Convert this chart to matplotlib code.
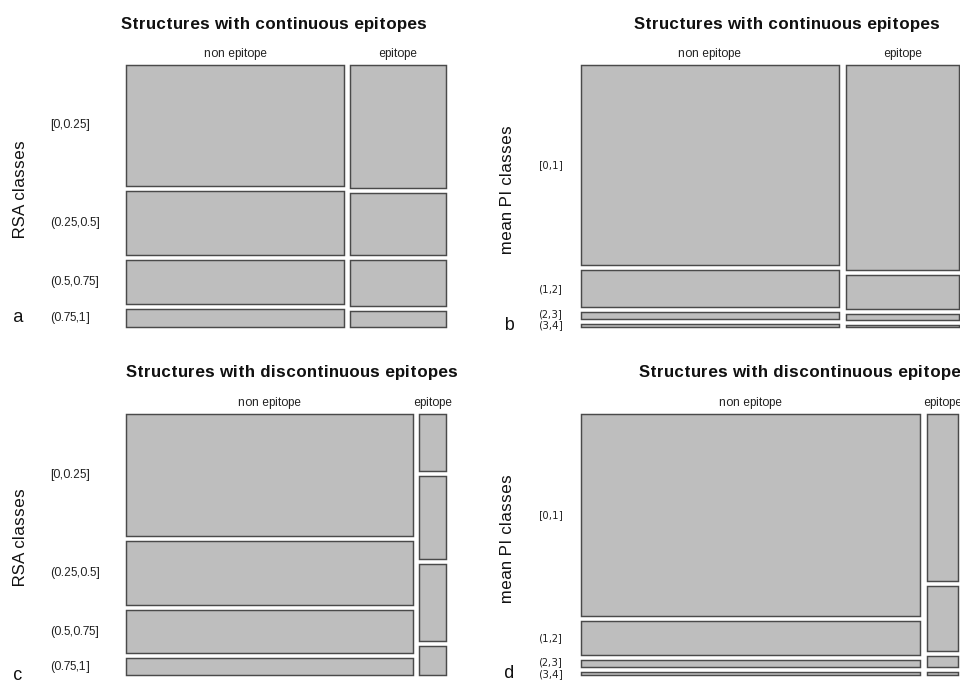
import numpy as np
import matplotlib.pyplot as plt
from matplotlib.patches import Rectangle

plt.rcParams['font.family'] = ['Liberation Sans', 'DejaVu Sans']
plt.rcParams['text.hinting_factor'] = 1

# column / row categories
columns = ['non epitope', 'epitope']
rsa_classes = ['[0,0.25]', '(0.25,0.5]', '(0.5,0.75]', '(0.75,1]']
pi_classes = ['[0,1]', '(1,2]', '(2,3]', '(3,4]']

# percent of residues in each cell (rows = class, one list per column)
cont_rsa_non = [33.9, 18.3, 12.4, 4.9]
cont_rsa_epi = [15.2, 7.6, 5.7, 2.0]
cont_pi_non = [56.4, 10.5, 1.9, 0.8]
cont_pi_epi = [25.4, 4.2, 0.7, 0.25]
disc_rsa_non = [45.3, 23.9, 16.2, 6.2]
disc_rsa_epi = [1.97, 2.83, 2.6, 1.0]
disc_pi_non = [75.3, 12.6, 2.6, 1.1]
disc_pi_epi = [5.7, 2.2, 0.4, 0.1]

W, H = 960, 682
fig = plt.figure(figsize=(W / 100, H / 100), dpi=100)

FILL = '#bebebe'
EDGE = '#4a4a4a'
GAP = 0.019


def px_axes(left, top, right, bottom):
    ax = fig.add_axes([left / W, 1 - bottom / H, (right - left) / W, (bottom - top) / H])
    ax.set_xlim(0, 1)
    ax.set_ylim(0, 1)
    ax.axis('off')
    return ax


def mosaic(ax, cols, row_labels, label_px, label_font, label_size):
    counts = np.array(cols, dtype=float)
    col_tot = counts.sum(axis=1)
    widths = col_tot / col_tot.sum() * (1 - GAP * (len(cols) - 1))
    x = 0.0
    centers = []
    for j, w in enumerate(widths):
        heights = counts[j] / col_tot[j] * (1 - GAP * (counts.shape[1] - 1))
        y = 1.0
        for h in heights:
            ax.add_patch(Rectangle((x, y - h), w, h, facecolor=FILL,
                                   edgecolor=EDGE, linewidth=1.05, clip_on=False))
            if j == 0:
                centers.append(y - h / 2)
            y -= h + GAP
        ax.text(x + w / 2, 1.042, columns[j], ha='center', va='center',
                fontsize=8.3, color='#222222')
        x += w + GAP

    # keep row labels from overlapping (work from bottom up)
    ys = list(centers)
    for i in range(len(ys) - 2, -1, -1):
        ys[i] = max(ys[i], ys[i + 1] + 0.044)
    for lab, yc in zip(row_labels, ys):
        ax.annotate(lab, xy=(0, yc), xycoords=('axes fraction', 'data'),
                    xytext=(label_px * 0.72, 0), textcoords='offset points',
                    ha='left', va='center', fontsize=label_size,
                    family=label_font, color='#222222')


# panel a
ax_a = px_axes(126, 65.3, 446, 326.7)
mosaic(ax_a, [cont_rsa_non, cont_rsa_epi], rsa_classes, -76, ['Liberation Sans'], 8.5)
# panel b
ax_b = px_axes(581.3, 65.3, 958.7, 327)
mosaic(ax_b, [cont_pi_non, cont_pi_epi], pi_classes, -42, ['DejaVu Sans'], 7.3)
# panel c
ax_c = px_axes(126, 413.7, 445.7, 675)
mosaic(ax_c, [disc_rsa_non, disc_rsa_epi], rsa_classes, -76, ['Liberation Sans'], 8.5)
# panel d
ax_d = px_axes(581.3, 413.7, 958.3, 675.3)
mosaic(ax_d, [disc_pi_non, disc_pi_epi], pi_classes, -42, ['DejaVu Sans'], 7.3)

titles = [('Structures with continuous epitopes', 274.3, 24),
          ('Structures with continuous epitopes', 787.5, 24),
          ('Structures with discontinuous epitopes', 291.7, 372),
          ('Structures with discontinuous epitopes', 805, 372)]
for t, x, y in titles:
    fig.text(x / W, 1 - y / H, t, ha='center', va='center',
             fontsize=12.5, fontweight='bold', color='#111111')

ylabels = [('RSA classes', 21, 189), ('mean PI classes', 508, 189),
           ('RSA classes', 21, 537.5), ('mean PI classes', 508, 538.5)]
for t, x, y in ylabels:
    fig.text(x / W, 1 - y / H, t, ha='center', va='center', rotation=90,
             fontsize=12.5, color='#111111')

letters = [('a', 18, 318), ('b', 509, 326), ('c', 18, 675), ('d', 509, 674)]
for t, x, y in letters:
    fig.text(x / W, 1 - y / H, t, ha='center', va='center',
             fontsize=13, color='#111111')

fig.savefig('out.png', dpi=100, facecolor='white')
